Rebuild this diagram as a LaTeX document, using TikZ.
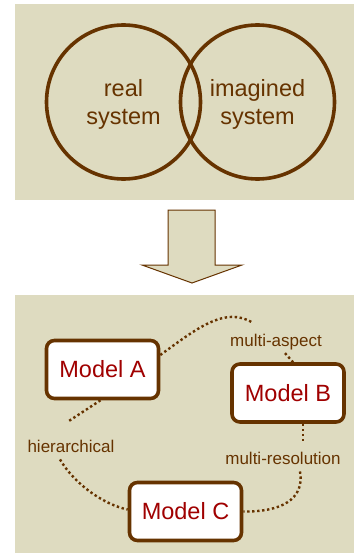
\documentclass[tikz,border=0pt]{standalone}
\usepackage{fontspec}
\setmainfont{Liberation Sans}
\usetikzlibrary{calc}
\definecolor{paper}{RGB}{222,219,192}
\definecolor{umber}{RGB}{102,51,0}
\definecolor{crimson}{RGB}{160,0,0}
\tikzset{
  panel/.style={fill=paper, draw=none},
  ring/.style={draw=umber, line width=3.6pt},
  ringtext/.style={text=umber, font=\fontsize{23.5}{28}\selectfont, align=center},
  model/.style={draw=umber, line width=3.6pt, fill=white, rounded corners=8pt,
    minimum width=112pt, minimum height=58pt, text=crimson,
    font=\fontsize{23.5}{28}\selectfont},
  relation/.style={text=umber, font=\fontsize{17}{20}\selectfont, inner sep=1pt},
  link/.style={draw=umber, line width=2.4pt, dash pattern=on 2.4pt off 2.6pt},
}
\begin{document}
\begin{tikzpicture}[x=1pt,y=-1pt]
  \useasboundingbox (0,0) rectangle (354,556);
  \fill[white] (0,0) rectangle (354,556);

  % upper panel: real and imagined system
  \fill[panel] (15,4) rectangle (354,200);
  \draw[ring] (123.5,102) circle (77pt);
  \draw[ring] (257.5,102) circle (77pt);
  \node[ringtext] (real) at (123.5,104) {real\\system};
  \node[ringtext] (imag) at (257.5,104) {imagined\\system};

  % block arrow between panels
  \draw[umber, line width=1pt, fill=paper]
    (168,210) -- (215,210) -- (215,265) -- (242,265) -- (192,283)
    -- (142,265) -- (168,265) -- cycle;

  % lower panel: three related models
  \fill[panel] (15,295) rectangle (354,553);
  \node[model] (A) at (102.5,369.5) {Model A};
  \node[model] (B) at (288,393) {Model B};
  \node[model] (C) at (185.5,511.5) {Model C};

  \node[relation] (asp) at (276,342) {multi-aspect};
  \node[relation] (hier) at (71,446) {hierarchical};
  \node[relation] (res) at (283,458) {multi-resolution};

  % dotted relations, broken by their labels
  \coordinate (aspIn) at (253,323);
  \draw[link] (A.east |- 0,355) .. controls (195,330) and (225,305) .. (aspIn);
  \draw[link] ($(asp.south)+(9,2)$) -- ($(B.north)+(5,0)$);

  \draw[link] ($(B.south)+(15,0)$) -- ($(B.south)+(15,17)$);
  \draw[link] ($(res.south)+(17,6)$) .. controls (305,500) and (280,512) .. (C.east);

  \draw[link] ($(A.south)+(-2,0)$) -- ($(hier.north)+(-3,-17)$);
  \draw[link] ($(hier.south)+(-11,6)$) .. controls (75,485) and (105,505) .. ($(C.west)+(0,-2)$);
\end{tikzpicture}
\end{document}
